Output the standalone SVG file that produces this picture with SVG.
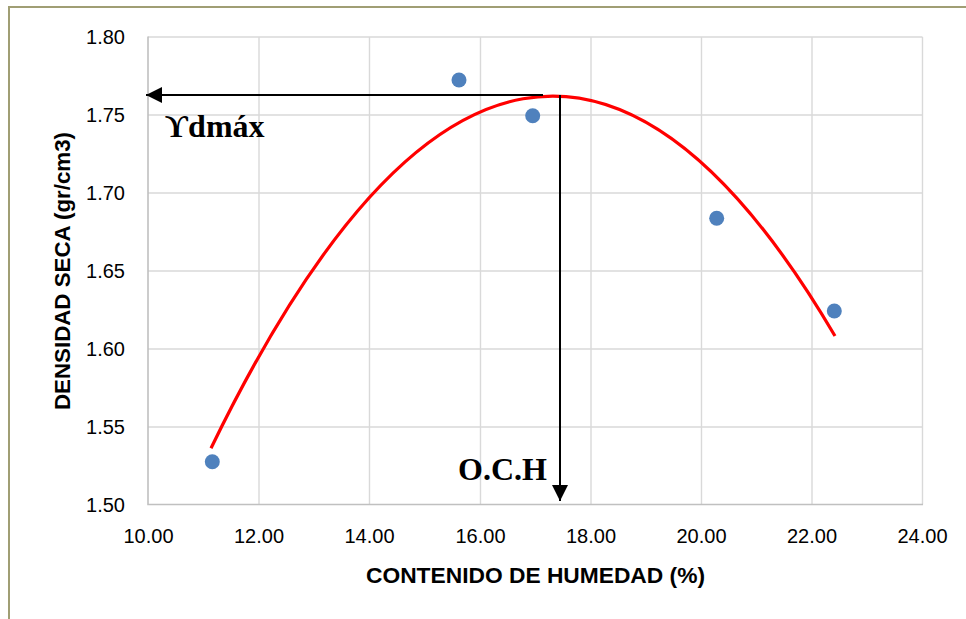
<svg xmlns="http://www.w3.org/2000/svg" width="966" height="619" viewBox="0 0 966 619">
<style>
.grid{stroke:#d9d9d9;stroke-width:1.4;fill:none}
.axis{stroke:#c0c0c0;stroke-width:1.6;fill:none}
.tick{font-family:"Liberation Sans",Arial,sans-serif;font-size:20px;fill:#000}
.title{font-family:"Liberation Sans",Arial,sans-serif;font-size:22px;font-weight:bold;fill:#000}
.ann{font-family:"Liberation Serif","DejaVu Serif",serif;font-size:32px;font-weight:bold;fill:#000}
.pt{fill:#4f81bd}
.arrow{stroke:#000;stroke-width:2;fill:none}
</style>
<defs>
<marker id="ah" markerWidth="16" markerHeight="16" refX="16" refY="8" orient="auto" markerUnits="userSpaceOnUse">
<path d="M0,0 L16,8 L0,16 Z" fill="#000"/>
</marker>
</defs>
<rect x="0" y="0" width="966" height="619" fill="#fff"/>
<rect x="9" y="7" width="1000" height="700" fill="none" stroke="#a09e74" stroke-width="2"/>
<g id="grid">
<path class="grid" d="M259,37V504.5M369.5,37V504.5M480.5,37V504.5M591,37V504.5M701.5,37V504.5M812,37V504.5M922.5,37V504.5"/>
<path class="grid" d="M148,37H922.5M148,115H922.5M148,193H922.5M148,271H922.5M148,349H922.5M148,427H922.5"/>
<path class="axis" d="M148,36.5V504.5H923"/>
</g>
<g id="y-ticks" class="tick" text-anchor="end">
<text x="125" y="44">1.80</text>
<text x="125" y="122">1.75</text>
<text x="125" y="200">1.70</text>
<text x="125" y="278">1.65</text>
<text x="125" y="356">1.60</text>
<text x="125" y="434">1.55</text>
<text x="125" y="512">1.50</text>
</g>
<g id="x-ticks" class="tick" text-anchor="middle">
<text x="148.5" y="543">10.00</text>
<text x="259" y="543">12.00</text>
<text x="369.5" y="543">14.00</text>
<text x="480.5" y="543">16.00</text>
<text x="591" y="543">18.00</text>
<text x="701.5" y="543">20.00</text>
<text x="812" y="543">22.00</text>
<text x="922.5" y="543">24.00</text>
</g>
<text id="x-title" class="title" x="366" y="583" textLength="339" lengthAdjust="spacingAndGlyphs">CONTENIDO DE HUMEDAD (%)</text>
<text id="y-title" class="title" transform="translate(70,410) rotate(-90)" x="0" y="0" textLength="278" lengthAdjust="spacingAndGlyphs">DENSIDAD SECA (gr/cm3)</text>
<g id="trend">
<path d="M211,448.2 Q523,-194.5 835,336" fill="none" stroke="#ff0000" stroke-width="3.2"/>
</g>
<g id="points">
<circle class="pt" cx="212.3" cy="461.7" r="7.5"/>
<circle class="pt" cx="459" cy="80" r="7.5"/>
<circle class="pt" cx="532.7" cy="115.7" r="7.5"/>
<circle class="pt" cx="716.7" cy="218.3" r="7.5"/>
<circle class="pt" cx="834.3" cy="311" r="7.5"/>
</g>
<g id="connectors">
<line class="arrow" x1="543" y1="95" x2="146" y2="95" marker-end="url(#ah)"/>
<line class="arrow" x1="560" y1="95" x2="560" y2="501" marker-end="url(#ah)"/>
</g>
<g id="labels">
<text class="ann" x="165" y="137">ϒdmáx</text>
<text class="ann" x="458" y="480">O.C.H</text>
</g>
</svg>
